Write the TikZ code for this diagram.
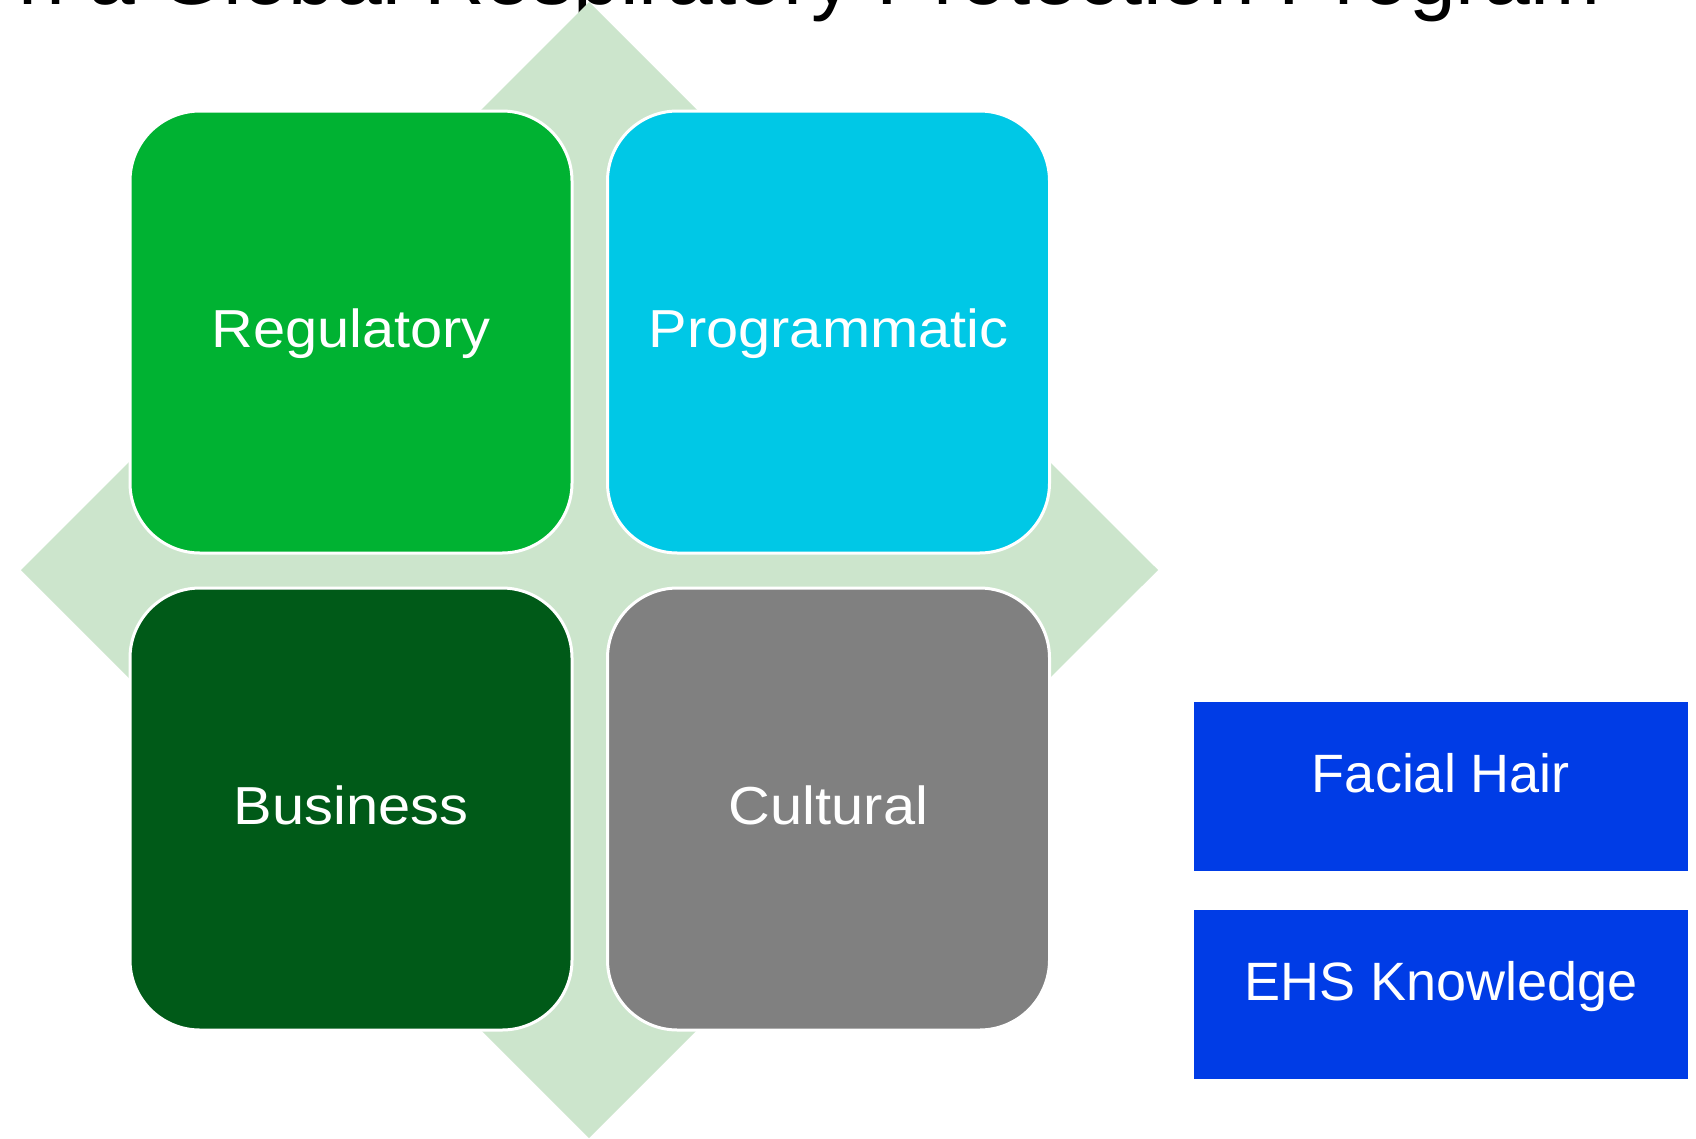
\documentclass[tikz,border=0pt]{standalone}
\usepackage{fontspec}
\setmainfont{Liberation Sans}
\newfontfamily\widefont[FakeStretch=1.08]{Liberation Sans}
\definecolor{diamondc}{RGB}{204,229,204}
\definecolor{cReg}{RGB}{0,178,50}
\definecolor{cProg}{RGB}{0,200,230}
\definecolor{cBus}{RGB}{0,90,24}
\definecolor{cCul}{RGB}{128,128,128}
\definecolor{cBlue}{RGB}{0,60,230}
\begin{document}
\begin{tikzpicture}[x=1pt,y=-1pt,
  tile/.style={draw=white, line width=3pt, rounded corners=70pt,
    minimum width=442pt, minimum height=442pt, inner sep=0pt, outer sep=0pt},
  tiletext/.style={anchor=base, text=white, inner sep=0pt,
    font=\widefont\fontsize{53.5}{60}\selectfont},
  bluebox/.style={fill=cBlue, draw=none, minimum width=494pt, minimum height=169pt,
    inner sep=0pt, outer sep=0pt},
  bluetext/.style={anchor=base, text=white, inner sep=0pt,
    font=\fontsize{54}{60}\selectfont}]
\clip (0,0) rectangle (1696,1138);
\fill[white] (0,0) rectangle (1696,1138);
% title (cut off at the top)
\node[anchor=base east, inner sep=0pt, font=\fontsize{84}{90}\selectfont] (title) at (1601,4)
  {n a Global Respiratory Protection Program};
% background diamond
\fill[diamondc] (589,2) -- (1158,570) -- (589,1138) -- (21,570) -- cycle;
% tiles
\node[tile, fill=cReg] (reg) at (351,332) {};
\node[tile, fill=cProg] (prog) at (828.5,332) {};
\node[tile, fill=cBus] (bus) at (351,809) {};
\node[tile, fill=cCul] (cul) at (828.5,809) {};
\node[tiletext] (regt) at (351,347) {Regulatory};
\node[tiletext] (progt) at (828.5,347) {Programmatic};
\node[tiletext] (bust) at (351,824) {Business};
\node[tiletext] (cult) at (828.5,824) {Cultural};
% right boxes
\node[bluebox] (face) at (1441,786.5) {};
\node[bluebox] (ehs) at (1441,994.5) {};
\node[bluetext] (facet) at (1441,792.5) {Facial Hair};
\node[bluetext] (ehst) at (1441,1000.5) {EHS Knowledge};
\end{tikzpicture}
\end{document}
